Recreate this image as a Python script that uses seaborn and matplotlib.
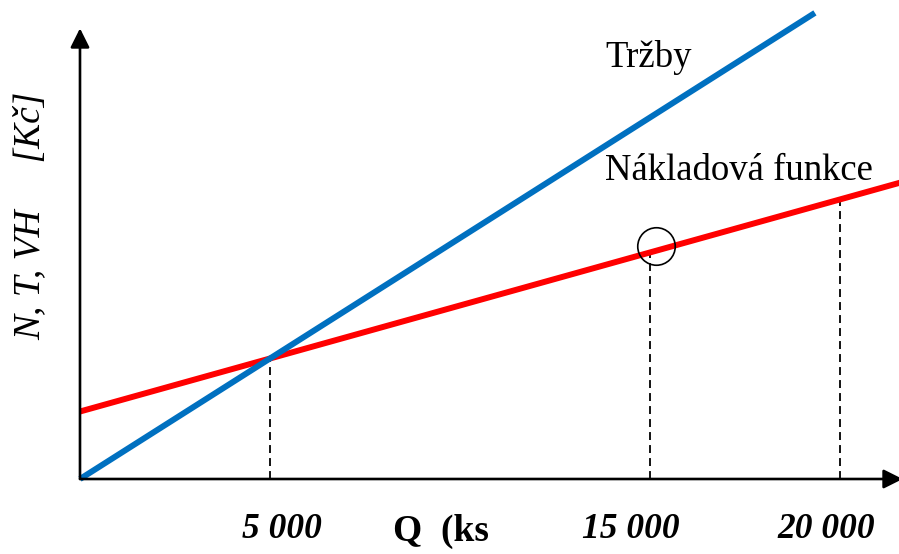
import numpy as np
import pandas as pd
import matplotlib
matplotlib.use("Agg")
import matplotlib.pyplot as plt
import seaborn as sns

# break-even chart values (Q in ks, money in Kc)
trzby_q = [0, 19340]
trzby_kc = [0, 1934000]
naklady_q = [0, 21700]
naklady_kc = [280000, 1234800]
mark_q = [5000, 15000, 20000]
mark_kc = [500000, 940000, 1160000]
mark_labels = ["5 000", "15 000", "20 000"]
label_dx = [12, -19, -14]   # label shift in px from the dashed line

sns.set_theme(style="white")
plt.rcParams["font.family"] = ["Liberation Serif", "DejaVu Serif"]
plt.rcParams["text.color"] = "black"

fig = plt.figure(figsize=(8.99, 5.54), dpi=100)
ax = fig.add_axes([0, 0, 1, 1])
ax.set_xlim(-2105, 21553)
ax.set_ylim(-311200, 1987500)
ax.axis("off")

# lines
sns.lineplot(x=naklady_q, y=naklady_kc, color="#ff0000", lw=4.3, ax=ax,
             solid_capstyle="butt")
sns.lineplot(x=trzby_q, y=trzby_kc, color="#0070c0", lw=4.3, ax=ax,
             solid_capstyle="butt")

# dashed drop lines
for q, v in zip(mark_q, mark_kc):
    ax.plot([q, q], [0, v], color="black", lw=1.3, dashes=(4.4, 2.8), zorder=1)

# circle around the 15 000 point
ax.plot(mark_q[1] + 150, mark_kc[1] + 25000, "o", ms=27, mfc="none",
        mec="black", mew=1.2, zorder=4)

# axes with arrows
arrow = dict(arrowstyle="-|>,head_length=0.58,head_width=0.29",
             mutation_scale=20, color="black", lw=1.9, shrinkA=0, shrinkB=0)
ax.annotate("", xy=(0, 1870000), xytext=(0, 0), arrowprops=arrow,
            annotation_clip=False)
ax.annotate("", xy=(21650, 0), xytext=(0, 0), arrowprops=arrow,
            annotation_clip=False)

# texts (pixel positions via figure fractions)
W, H = 899, 554
ax.text(605 / W, 1 - 67 / H, "Tržby", transform=ax.transAxes, fontsize=26.5,
        va="baseline", ha="left", color="black")
ax.text(605 / W, 1 - 180 / H, "Nákladová funkce", transform=ax.transAxes,
        fontsize=26.5, va="baseline", ha="left", color="black")

for q, lab, dx in zip(mark_q, mark_labels, label_dx):
    px = 80 + q / 1000 * 38 + dx
    ax.text(px / W, 1 - 538 / H, lab, transform=ax.transAxes, fontsize=25.5,
            fontweight="bold", fontstyle="italic", ha="center", va="baseline",
            color="black")

ax.text(393 / W, 1 - 541 / H, "Q  (ks", transform=ax.transAxes, fontsize=27,
        fontweight="bold", ha="left", va="baseline", color="black")

ax.text(30 / W, 1 - 216 / H, "N, T, VH     [Kč]", transform=ax.transAxes,
        fontsize=27, fontstyle="italic", rotation=90, ha="center",
        va="center", color="black")

fig.savefig("out.png", dpi=100)
